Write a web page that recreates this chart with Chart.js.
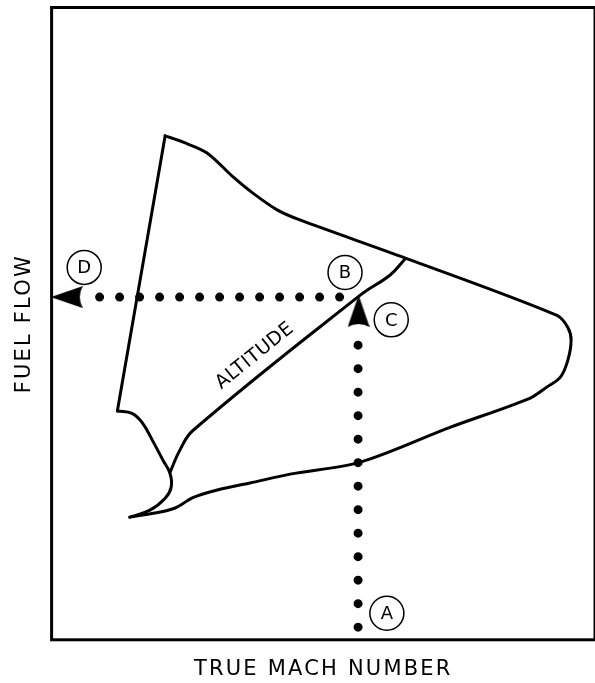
<!DOCTYPE html>
<html>
<head>
<meta charset="utf-8">
<script src="https://cdn.jsdelivr.net/npm/chart.js@4.4.1/dist/chart.umd.min.js"></script>
<style>
  html, body { margin: 0; padding: 0; background: #fff; }
  #wrap { width: 595px; height: 683px; }
</style>
</head>
<body>
<div id="wrap"><canvas id="myChart"></canvas></div>
<script>
    // Domaine de vol : unités relatives 0-100 sur les deux axes
    var leftEdge = [ {x: 12.1, y: 36.2}, {x: 20.9, y: 79.7} ];

    var outerEdge = [
        {x: 20.9, y: 79.7}, {x: 24.2, y: 78.7}, {x: 28.6, y: 77.0}, {x: 33.4, y: 73.2},
        {x: 37.1, y: 70.6}, {x: 41.5, y: 68.0}, {x: 45.7, y: 66.4}, {x: 65.0, y: 60.4},
        {x: 93.0, y: 51.3}, {x: 95.0, y: 49.4}, {x: 95.6, y: 47.4}, {x: 95.0, y: 44.2},
        {x: 93.6, y: 41.5}, {x: 91.2, y: 40.0}, {x: 88.0, y: 38.2}, {x: 73.3, y: 33.6},
        {x: 56.8, y: 28.1}, {x: 43.9, y: 26.2}, {x: 36.5, y: 24.8}, {x: 30.5, y: 23.7},
        {x: 26.0, y: 22.5}, {x: 23.1, y: 21.0}, {x: 20.0, y: 20.2}, {x: 14.4, y: 19.4}
    ];

    var innerEdge = [
        {x: 14.4, y: 19.4}, {x: 18.1, y: 20.5}, {x: 20.9, y: 22.4}, {x: 22.0, y: 24.1},
        {x: 21.8, y: 26.3}, {x: 20.5, y: 28.4}, {x: 18.7, y: 31.3}, {x: 16.7, y: 34.3},
        {x: 14.8, y: 35.8}, {x: 12.1, y: 36.2}
    ];

    var altitudeLine = [
        {x: 21.8, y: 26.5}, {x: 23.6, y: 30.0}, {x: 26.0, y: 33.1}, {x: 56.8, y: 54.5},
        {x: 62.3, y: 57.7}, {x: 65.0, y: 60.2}
    ];

    // Lignes de lecture pointillées et flèches
    var readHoriz = [ {x: 53.0, y: 54.2}, {x: 8.6, y: 54.2} ];
    var readVert = [ {x: 56.4, y: 2.0}, {x: 56.4, y: 46.8} ];
    var arrowLeft = [ {x: 2.8, y: 54.2} ];
    var arrowUp = [ {x: 56.5, y: 52.0} ];

    // Repères A B C D
    var markerNames = ['A', 'B', 'C', 'D'];
    var markerPos = [ {x: 61.7, y: 4.2}, {x: 54.0, y: 58.1}, {x: 62.5, y: 50.6}, {x: 6.0, y: 58.9} ];
    var altitudePos = {x: 37.4, y: 44.9};

    var textFont = '"DejaVu Sans", sans-serif';

    function makeArrow() {
        var c = document.createElement('canvas');
        c.width = 22; c.height = 32;
        var g = c.getContext('2d');
        g.fillStyle = '#000';
        g.beginPath();
        g.moveTo(11, 0);
        g.lineTo(22, 32);
        g.quadraticCurveTo(11, 26, 0, 32);
        g.closePath();
        g.fill();
        return c;
    }
    var arrowImg = makeArrow();

    function curve(data, tension) {
        return {
            data: data, showLine: true, borderColor: '#000', borderWidth: 3,
            pointRadius: 0, tension: tension, fill: false, clip: false,
            borderCapStyle: 'round', borderJoinStyle: 'round'
        };
    }

    function dotted(data, gap) {
        return {
            data: data, showLine: true, borderColor: '#000', borderWidth: 9,
            borderDash: [0, gap], borderCapStyle: 'round', pointRadius: 0, clip: false
        };
    }

    var framePlugin = {
        id: 'frame',
        beforeDraw: function (chart) {
            chart.ctx.letterSpacing = '2.2px';
        },
        beforeDatasetsDraw: function (chart) {
            var a = chart.chartArea, ctx = chart.ctx;
            ctx.save();
            ctx.letterSpacing = '0px';
            ctx.strokeStyle = '#000';
            ctx.lineWidth = 3;
            ctx.strokeRect(a.left, a.top, a.right - a.left, a.bottom - a.top);
            ctx.restore();
        },
        afterDatasetsDraw: function (chart) {
            var ctx = chart.ctx, xs = chart.scales.x, ys = chart.scales.y;
            ctx.save();
            ctx.fillStyle = '#000';
            ctx.textAlign = 'center';
            ctx.textBaseline = 'middle';
            ctx.letterSpacing = '0px';
            ctx.font = '18px ' + textFont;
            markerPos.forEach(function (p, i) {
                ctx.fillText(markerNames[i], xs.getPixelForValue(p.x), ys.getPixelForValue(p.y) + 1);
            });
            // texte ALTITUDE parallèle à la ligne
            var a = altitudeLine[2], b = altitudeLine[3];
            var ang = Math.atan2(ys.getPixelForValue(b.y) - ys.getPixelForValue(a.y),
                                 xs.getPixelForValue(b.x) - xs.getPixelForValue(a.x));
            ctx.translate(xs.getPixelForValue(altitudePos.x), ys.getPixelForValue(altitudePos.y));
            ctx.rotate(ang);
            ctx.font = '19px ' + textFont;
            ctx.letterSpacing = '0.5px';
            ctx.fillText('ALTITUDE', 0, 0);
            ctx.restore();
        },
        afterDraw: function (chart) {
            chart.ctx.letterSpacing = '0px';
        }
    };

    var ctx = document.getElementById('myChart').getContext('2d');
    var myChart = new Chart(ctx, {
        type: 'scatter',
        data: {
            datasets: [
                {
                    data: markerPos, pointStyle: 'circle', pointRadius: 17,
                    pointBackgroundColor: '#fff', pointBorderColor: '#000', pointBorderWidth: 1.5, clip: false
                },
                { data: arrowLeft, pointStyle: arrowImg, rotation: -90, pointRadius: 10, clip: false },
                { data: arrowUp, pointStyle: arrowImg, rotation: 0, pointRadius: 10, clip: false },
                dotted(readHoriz, 20),
                dotted(readVert, 23.5),
                curve(leftEdge, 0),
                curve(outerEdge, 0.3),
                curve(innerEdge, 0.4),
                curve(altitudeLine, 0.4)
            ]
        },
        options: {
            responsive: true,
            maintainAspectRatio: false,
            animation: false,
            events: [],
            layout: { autoPadding: false, padding: { top: 7.5, right: 0, left: 0, bottom: 0 } },
            plugins: { legend: { display: false }, tooltip: { enabled: false } },
            scales: {
                x: {
                    type: 'linear', min: 0, max: 100,
                    grid: { display: false, drawTicks: false },
                    ticks: { display: false },
                    border: { display: false },
                    title: {
                        display: true, text: 'TRUE MACH NUMBER', color: '#000',
                        font: { family: textFont, size: 21, lineHeight: 1.2 },
                        padding: { top: 17, bottom: 1 }
                    }
                },
                y: {
                    type: 'linear', min: 0, max: 100,
                    grid: { display: false, drawTicks: false },
                    ticks: { display: false },
                    border: { display: false },
                    title: {
                        display: true, text: 'FUEL FLOW', color: '#000',
                        font: { family: textFont, size: 21, lineHeight: 1.2 },
                        padding: { top: 12, bottom: 14.4 }
                    }
                }
            }
        },
        plugins: [framePlugin]
    });
</script>
</body>
</html>
